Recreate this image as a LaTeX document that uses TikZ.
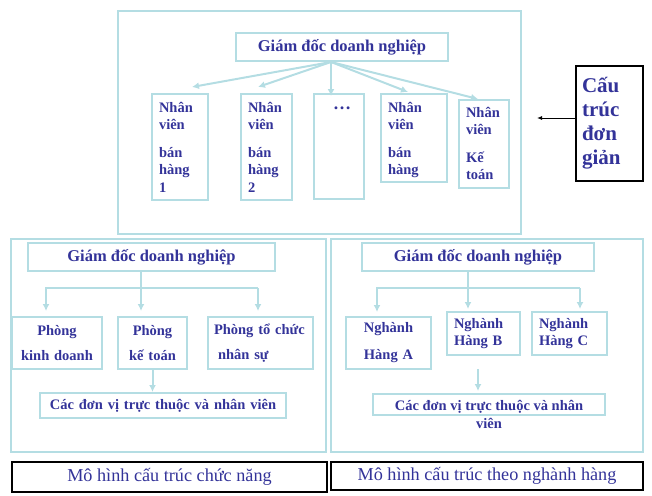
\documentclass[tikz,border=0pt]{standalone}
\usepackage{fontspec}
\setmainfont{Liberation Serif}
\usetikzlibrary{arrows.meta}
\definecolor{lbl}{HTML}{B4DDE3}
\definecolor{txt}{HTML}{333399}
\tikzset{
  frame/.style={draw=lbl,line width=2pt},
  bx/.style={draw=lbl,line width=2pt,inner sep=0pt,text=txt,font=\bfseries\fontsize{14.5}{17.5}\selectfont},
  gdbox/.style={bx,font=\bfseries\fontsize{16.5}{19}\selectfont,align=center},
  cline/.style={draw=lbl,line width=2pt},
  arr/.style={cline,-{Latex[length=7pt,width=7pt]}},
  capbox/.style={draw=black,line width=2pt,inner sep=0pt,text=txt,font=\fontsize{18.2}{21}\selectfont,align=center},
}
\begin{document}
\begin{tikzpicture}[x=1pt,y=-1pt]
\useasboundingbox (0,0) rectangle (652,495);
% outer frames
\draw[frame] (118,11) rectangle (521,234);
\draw[frame] (11,239) rectangle (326,452);
\draw[frame] (331,239) rectangle (643,452);

% ---- top: simple structure
\node[gdbox,minimum width=212,minimum height=28] (gd) at (342,47) {Giám đốc doanh nghiệp};
\node[bx,minimum width=56,minimum height=106,text width=42,align=left,text height=18pt,text depth=88pt] (s1) at (180,147)
  {Nhân\\viên\\[10pt]bán\\hàng\\1};
\node[bx,minimum width=51,minimum height=106,text width=37,align=left,text height=18pt,text depth=88pt] (s2) at (266.5,147)
  {Nhân\\viên\\[10pt]bán\\hàng\\2};
\node[bx,minimum width=50,minimum height=105,
  label={[name=dots,anchor=north,yshift=-10pt,xshift=3pt,text=txt,font=\bfseries\fontsize{18}{20}\selectfont]north:…}] (s3) at (339,146.5) {};
\node[bx,minimum width=66,minimum height=88,text width=52,align=left,text height=18pt,text depth=70pt] (s4) at (414,138)
  {Nhân\\viên\\[10pt]bán\\hàng};
\node[bx,minimum width=50,minimum height=88,text width=36,align=left,text height=17pt,text depth=71pt] (s5) at (484,144)
  {Nhân\\viên\\[10pt]Kế\\toán};

\draw[arr] ([xshift=-11pt]gd.south) -- ([xshift=12pt,yshift=6pt]s1.north);
\draw[arr] ([xshift=-11pt]gd.south) -- ([xshift=-8.5pt,yshift=6pt]s2.north);
\draw[arr] ([xshift=-11pt]gd.south) -- ([xshift=-8pt,yshift=-3pt]s3.north);
\draw[arr] ([xshift=-11pt]gd.south) -- ([xshift=-6pt,yshift=1pt]s4.north);
\draw[arr] ([xshift=-11pt]gd.south) -- ([xshift=-6pt]s5.north);

\node[draw=black,line width=2pt,minimum width=67,minimum height=115,inner sep=0pt,
  text width=55,align=left,text=txt,font=\bfseries\fontsize{21}{24}\selectfont,
  text height=26pt,text depth=89pt] (ct) at (609.5,123.5)
  {Cấu\\trúc\\đơn\\giản};
\coordinate (ctend) at (537,118);
\draw[black,line width=1pt,-{Latex[length=5pt,width=4pt]}] ([yshift=5.5pt]ct.west) -- (ctend);

% ---- bottom left: functional structure
\node[gdbox,minimum width=247,minimum height=28] (gdl) at (151.5,257) {Giám đốc doanh nghiệp};
\node[bx,minimum width=90,minimum height=52,text width=80,align=center,
  font=\bfseries\fontsize{14.5}{25}\selectfont] (pkd) at (57,343) {Phòng\\kinh doanh};
\node[bx,minimum width=69,minimum height=52,text width=60,align=center,
  font=\bfseries\fontsize{14.5}{25}\selectfont] (pkt) at (152.5,343) {Phòng\\kế toán};
\node[bx,minimum width=105,minimum height=52,text width=93,align=left,
  font=\bfseries\fontsize{14.5}{25}\selectfont] (ptc) at (260.5,343) {Phòng tổ chức\\\hspace*{4pt}nhân sự};
\node[bx,minimum width=246,minimum height=25,text width=236,align=center] (cdvl) at (163,405.5)
  {Các đơn vị trực thuộc và nhân viên};

\coordinate (lL) at (46,288);
\coordinate (lR) at (258,288);
\draw[arr] ([xshift=-10.5pt]gdl.south) -- ([xshift=-11.5pt,yshift=5pt]pkt.north);
\draw[arr] (lR) -- (lL) -- ([xshift=-11pt,yshift=5pt]pkd.north);
\draw[arr] (lR) -- ([xshift=-2.5pt,yshift=5pt]ptc.north);
\draw[arr] (pkt.south) -- (pkt.south |- cdvl.north);

\node[capbox,minimum width=315,minimum height=30] (tl) at (169.5,477) {Mô hình cấu trúc chức năng};

% ---- bottom right: product-line structure
\node[gdbox,minimum width=232,minimum height=28] (gdr) at (478,257) {Giám đốc doanh nghiệp};
\node[bx,minimum width=85,minimum height=52,text width=75,align=center,
  font=\bfseries\fontsize{14.5}{27}\selectfont] (nA) at (388.5,343) {Nghành\\Hàng A};
\node[bx,minimum width=73,minimum height=43,text width=59,align=left] (nB) at (483.5,333.5) {Nghành\\Hàng B};
\node[bx,minimum width=75,minimum height=43,text width=61,align=left] (nC) at (569.5,333.5) {Nghành\\Hàng C};
\node[bx,minimum width=232,minimum height=21,text width=212,align=flush center,
  text height=13pt,text depth=2pt,inner ysep=3pt,font=\bfseries\fontsize{14.5}{18}\selectfont] (cdvr) at (489,404.5)
  {Các đơn vị trực thuộc và nhân viên};

\coordinate (rL) at (377,288);
\coordinate (rR) at (580,288);
\draw[arr] ([xshift=-10pt]gdr.south) -- ([xshift=-15.5pt,yshift=2pt]nB.north);
\draw[arr] (rR) -- (rL) -- ([xshift=-11.5pt,yshift=4pt]nA.north);
\draw[arr] (rR) -- ([xshift=10.5pt,yshift=2pt]nC.north);
\coordinate (rfree) at (478,369);
\draw[arr] (rfree) -- ([xshift=-11pt,yshift=2pt]cdvr.north);

\node[capbox,minimum width=312,minimum height=28] (tr) at (487,476) {Mô hình cấu trúc theo nghành hàng};
\end{tikzpicture}
\end{document}
